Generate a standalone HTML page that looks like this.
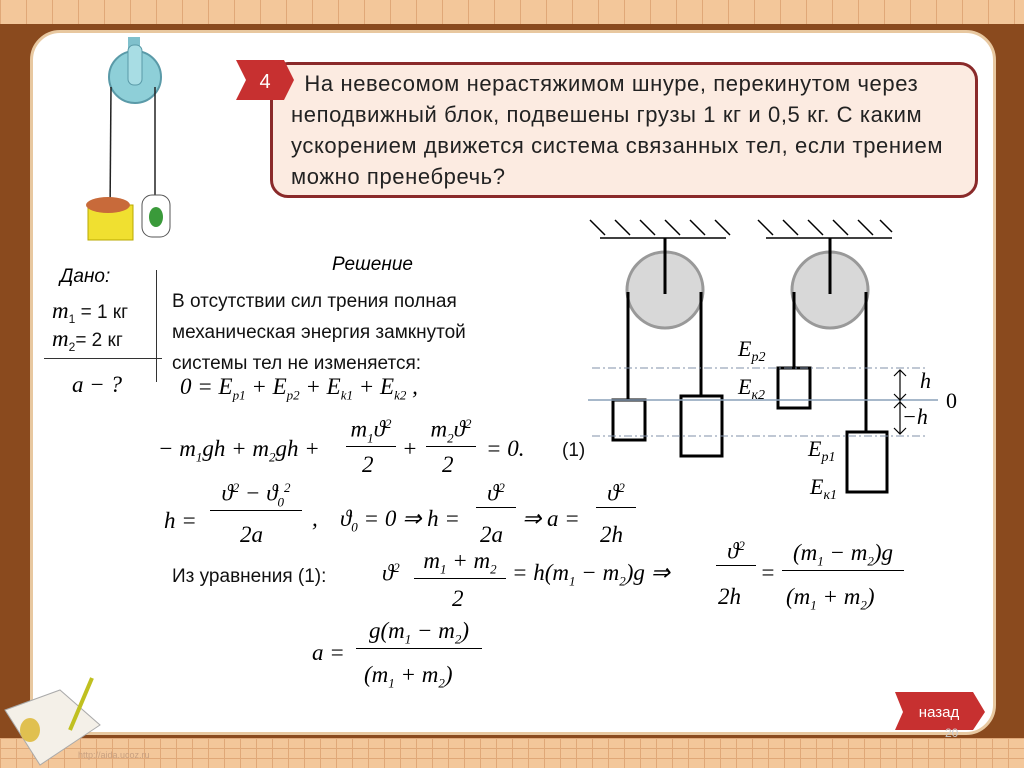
<!DOCTYPE html>
<html><head><meta charset="utf-8"><style>
body{margin:0;width:1024px;height:768px;overflow:hidden;position:relative;background:#8a4a1e;font-family:"Liberation Sans",sans-serif}
.a{position:absolute}
.top{left:0;top:0;width:1024px;height:24px;background:#f3c79a;background-image:linear-gradient(90deg,#e0a878 1px,transparent 1px);background-size:26px 24px}
.bot{left:0;top:738px;width:1024px;height:30px;background:#f3c79a;background-image:linear-gradient(90deg,#e0a878 1px,transparent 1px),linear-gradient(#e0a878 1px,transparent 1px);background-size:16px 10px}
.panel{left:30px;top:30px;width:966px;height:705px;background:#fff;border-radius:30px;border:3px solid #e8c8a0;box-sizing:border-box}
.q{left:270px;top:62px;width:708px;height:136px;border:3px solid #8a2a2a;border-radius:18px;background:#fcebe1;box-sizing:border-box;font-size:22px;line-height:31px;letter-spacing:0.6px;padding:3px 0 0 18px;color:#222;white-space:nowrap}
.m{font-family:"Liberation Serif",serif;font-style:italic;font-size:23px;color:#000}
.t{font-size:19px;color:#111}
</style></head><body>
<div class="a top"></div><div class="a bot"></div>
<div class="a panel"></div>
<div class="a q">&nbsp;&nbsp;На невесомом нерастяжимом шнуре, перекинутом через<br>неподвижный блок, подвешены грузы 1 кг и 0,5 кг. С каким<br>ускорением движется система связанных тел, если трением<br>можно пренебречь?</div>
<svg class="a" style="left:236px;top:60px" width="60" height="42"><polygon points="0,0 48,0 58,20 48,40 0,40 10,20" fill="#c73030"/><text x="29" y="28" font-size="20" fill="#fff" text-anchor="middle" font-family="Liberation Sans">4</text></svg>
<svg class="a" style="left:80px;top:35px" width="110" height="210">
<rect x="48" y="2" width="12" height="12" fill="#7fc0cc"/>
<circle cx="55" cy="42" r="26" fill="#8ecfd8" stroke="#5a9aa8" stroke-width="2"/>
<rect x="48" y="10" width="14" height="40" rx="6" fill="#a8dde4" stroke="#5a9aa8"/>
<line x1="31" y1="52" x2="30" y2="180" stroke="#222" stroke-width="1.5"/>
<line x1="75" y1="52" x2="75" y2="160" stroke="#222" stroke-width="1.5"/>
<rect x="8" y="170" width="45" height="35" fill="#f0e030" stroke="#b8a800"/>
<ellipse cx="28" cy="170" rx="22" ry="8" fill="#c86a3a"/>
<rect x="62" y="160" width="28" height="42" fill="none" stroke="#555" rx="10"/>
<ellipse cx="76" cy="182" rx="7" ry="10" fill="#3a9a3a"/>
</svg>
<div class="a" style="left:332px;top:254px;font-size:19px;font-style:italic">Решение</div>
<div class="a" style="left:60px;top:266px;font-size:19px;font-style:italic">Дано:</div>
<div class="a t" style="left:52px;top:298px"><span class="m">m</span><sub style="font-size:12px">1</sub> = 1 кг</div>
<div class="a t" style="left:52px;top:326px"><span class="m">m</span><sub style="font-size:12px">2</sub>= 2 кг</div>
<div class="a" style="left:44px;top:358px;width:118px;height:1px;background:#333"></div>
<div class="a" style="left:156px;top:270px;width:1px;height:112px;background:#333"></div>
<div class="a m" style="left:72px;top:372px">a − ?</div>
<div class="a t" style="left:172px;top:286px;line-height:31px">В отсутствии сил трения полная<br>механическая энергия замкнутой<br>системы тел не изменяется:</div>
<div class="a m" style="left:180px;top:374px">0 = E<sub style="font-size:13px">p1</sub> + E<sub style="font-size:13px">p2</sub> + E<sub style="font-size:13px">k1</sub> + E<sub style="font-size:13px">k2</sub> ,</div>
<div class="a m" style="left:158px;top:436px">− m<sub style="font-size:13px">1</sub>gh + m<sub style="font-size:13px">2</sub>gh +</div>
<div class="a m" style="left:346px;top:416px;text-align:center;width:50px;border-bottom:1px solid #000">m<sub style="font-size:13px">1</sub>ϑ<sup style="font-size:13px">2</sup></div>
<div class="a m" style="left:362px;top:452px">2</div>
<div class="a m" style="left:402px;top:436px">+</div>
<div class="a m" style="left:426px;top:416px;text-align:center;width:50px;border-bottom:1px solid #000">m<sub style="font-size:13px">2</sub>ϑ<sup style="font-size:13px">2</sup></div>
<div class="a m" style="left:442px;top:452px">2</div>
<div class="a m" style="left:486px;top:436px">= 0.</div>
<div class="a t" style="left:562px;top:440px">(1)</div>
<div class="a m" style="left:164px;top:508px">h =</div>
<div class="a m" style="left:210px;top:480px;width:92px;text-align:center;border-bottom:1px solid #000">ϑ<sup style="font-size:13px">2</sup> − ϑ<sub style="font-size:13px">0</sub><sup style="font-size:13px">2</sup></div>
<div class="a m" style="left:240px;top:522px">2a</div>
<div class="a m" style="left:312px;top:506px">,</div>
<div class="a m" style="left:340px;top:506px">ϑ<sub style="font-size:13px">0</sub> = 0 ⇒ h =</div>
<div class="a m" style="left:476px;top:480px;width:40px;text-align:center;border-bottom:1px solid #000">ϑ<sup style="font-size:13px">2</sup></div>
<div class="a m" style="left:480px;top:522px">2a</div>
<div class="a m" style="left:522px;top:506px">⇒ a =</div>
<div class="a m" style="left:596px;top:480px;width:40px;text-align:center;border-bottom:1px solid #000">ϑ<sup style="font-size:13px">2</sup></div>
<div class="a m" style="left:600px;top:522px">2h</div>
<div class="a t" style="left:172px;top:566px">Из уравнения (1):</div>
<div class="a m" style="left:382px;top:560px">ϑ<sup style="font-size:13px">2</sup></div>
<div class="a m" style="left:414px;top:548px;width:92px;text-align:center;border-bottom:1px solid #000">m<sub style="font-size:13px">1</sub> + m<sub style="font-size:13px">2</sub></div>
<div class="a m" style="left:452px;top:586px">2</div>
<div class="a m" style="left:512px;top:560px">= h(m<sub style="font-size:13px">1</sub> − m<sub style="font-size:13px">2</sub>)g ⇒</div>
<div class="a m" style="left:716px;top:538px;width:40px;text-align:center;border-bottom:1px solid #000">ϑ<sup style="font-size:13px">2</sup></div>
<div class="a m" style="left:718px;top:584px">2h</div>
<div class="a m" style="left:760px;top:560px">=</div>
<div class="a m" style="left:782px;top:540px;width:122px;text-align:center;border-bottom:1px solid #000">(m<sub style="font-size:13px">1</sub> − m<sub style="font-size:13px">2</sub>)g</div>
<div class="a m" style="left:786px;top:584px">(m<sub style="font-size:13px">1</sub> + m<sub style="font-size:13px">2</sub>)</div>
<div class="a m" style="left:312px;top:640px">a =</div>
<div class="a m" style="left:356px;top:618px;width:126px;text-align:center;border-bottom:1px solid #000">g(m<sub style="font-size:13px">1</sub> − m<sub style="font-size:13px">2</sub>)</div>
<div class="a m" style="left:364px;top:662px">(m<sub style="font-size:13px">1</sub> + m<sub style="font-size:13px">2</sub>)</div>
<svg class="a" style="left:580px;top:210px" width="400" height="300" font-family="Liberation Serif" font-style="italic">
<g stroke="#000" stroke-width="1.5"><line x1="20" y1="28" x2="146" y2="28"/><line x1="186" y1="28" x2="312" y2="28"/>
<path d="M10 10l15 15M35 10l15 15M60 10l15 15M85 10l15 15M110 10l15 15M135 10l15 15M178 10l15 15M203 10l15 15M228 10l15 15M253 10l15 15M278 10l15 15M300 10l12 12"/></g>
<circle cx="85" cy="80" r="38" fill="#d8d8d8" stroke="#999" stroke-width="3"/>
<circle cx="250" cy="80" r="38" fill="#d8d8d8" stroke="#999" stroke-width="3"/>
<g stroke="#000" stroke-width="3" fill="#fff"><line x1="85" y1="28" x2="85" y2="84"/><line x1="250" y1="28" x2="250" y2="84"/>
<line x1="48" y1="82" x2="48" y2="190"/><line x1="121" y1="82" x2="121" y2="186"/>
<line x1="214" y1="82" x2="214" y2="158"/><line x1="286" y1="82" x2="286" y2="222"/>
<rect x="33" y="190" width="32" height="40"/><rect x="101" y="186" width="41" height="60"/>
<rect x="198" y="158" width="32" height="40"/><rect x="267" y="222" width="40" height="60"/></g>
<g stroke="#8090a8" stroke-width="1" stroke-dasharray="8 3 2 3"><line x1="12" y1="158" x2="345" y2="158"/><line x1="12" y1="226" x2="345" y2="226"/></g>
<line x1="8" y1="190" x2="358" y2="190" stroke="#8aa0b8" stroke-width="1.5"/>
<g stroke="#000" stroke-width="1.2" fill="none"><line x1="320" y1="160" x2="320" y2="224"/><path d="M314 166l6-6 6 6M314 184l6 6 6-6M314 198l6-6 6 6M314 218l6 6 6-6"/></g>
<text x="158" y="146" font-size="22">E<tspan font-size="14" dy="5">p2</tspan></text>
<text x="158" y="184" font-size="22">E<tspan font-size="14" dy="5">к2</tspan></text>
<text x="228" y="246" font-size="22">E<tspan font-size="14" dy="5">p1</tspan></text>
<text x="230" y="284" font-size="22">E<tspan font-size="14" dy="5">к1</tspan></text>
<text x="340" y="178" font-size="22">h</text><text x="322" y="214" font-size="22">−h</text>
<text x="366" y="198" font-size="22" font-style="normal">0</text>
</svg>
<svg class="a" style="left:895px;top:692px" width="92" height="40"><polygon points="0,0 78,0 90,20 78,38 0,38 8,20" fill="#c73030"/><text x="44" y="25" font-size="15" fill="#fff" text-anchor="middle" font-family="Liberation Sans">назад</text></svg>
<div class="a" style="left:945px;top:726px;font-size:12px;color:#ccc">20</div>
<svg class="a" style="left:0px;top:670px" width="110" height="98"><polygon points="5,40 60,20 100,55 40,95" fill="#f4f0e8" stroke="#aaa"/><ellipse cx="30" cy="60" rx="10" ry="12" fill="#e0c050"/><line x1="70" y1="60" x2="92" y2="8" stroke="#c0c020" stroke-width="4"/></svg>
<div class="a" style="left:78px;top:750px;font-size:9px;color:#c8a080">http://aida.ucoz.ru</div>
</body></html>
